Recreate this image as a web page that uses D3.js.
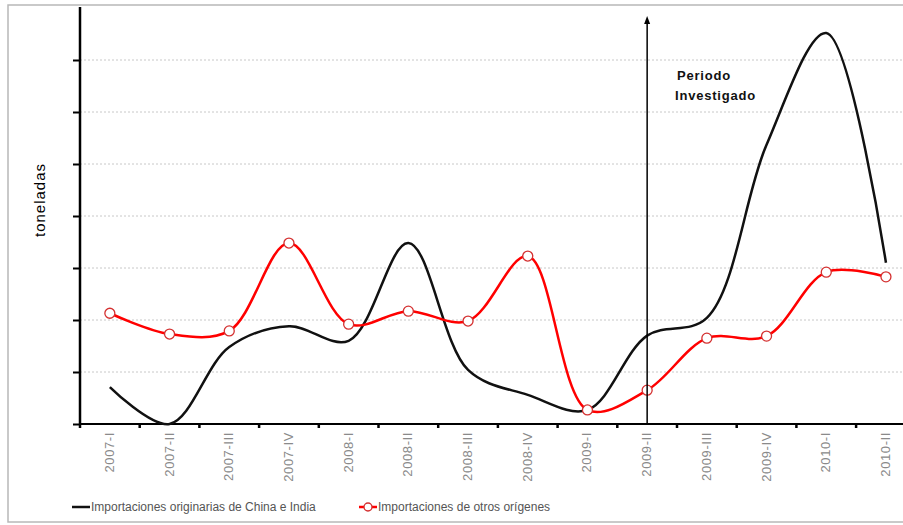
<!DOCTYPE html>
<html>
<head>
<meta charset="utf-8">
<script src="https://cdn.jsdelivr.net/npm/d3@7"></script>
<style>
  body { margin: 0; background: #fff; }
  svg { display: block; font-family: "Liberation Sans", Arial, sans-serif; }
</style>
</head>
<body>
<div id="chart"></div>
<script>
// trimestres
const periods = ["2007-I", "2007-II", "2007-III", "2007-IV", "2008-I", "2008-II", "2008-III",
  "2008-IV", "2009-I", "2009-II", "2009-III", "2009-IV", "2010-I", "2010-II"];
// Importaciones originarias de China e India
const chinaIndia = [0.71, 0.0, 1.48, 1.88, 1.6, 3.48, 1.04, 0.56, 0.27, 1.7, 2.04, 5.37, 7.52, 3.1];
// Importaciones de otros orígenes
const otros = [2.13, 1.73, 1.79, 3.48, 1.92, 2.17, 1.98, 3.23, 0.27, 0.65, 1.65, 1.69, 2.92, 2.83];
const yTicks = [0, 1, 2, 3, 4, 5, 6, 7, 8];
const markerPeriod = "2009-II";

const W = 903, H = 525;
const plotLeft = 80, plotTop = 8, plotBottom = 424;
const step = 59.7;

const svg = d3.select("#chart").append("svg")
  .attr("width", W)
  .attr("height", H);

// outer frame
svg.append("rect")
  .attr("x", 8).attr("y", 5)
  .attr("width", W).attr("height", 517)
  .attr("fill", "none")
  .attr("stroke", "#b8b8b8")
  .attr("stroke-width", 1.5);

const x = d3.scaleBand()
  .domain(periods)
  .range([plotLeft, plotLeft + step * periods.length]);
const y = d3.scaleLinear().domain([0, 8]).range([plotBottom, plotTop]);
const cx = d => x(d) + x.bandwidth() / 2;

// gridlines
svg.append("g")
  .selectAll("line")
  .data(yTicks.filter(d => d > 0 && d < 8))
  .enter().append("line")
  .attr("x1", plotLeft).attr("x2", W)
  .attr("y1", d => y(d)).attr("y2", d => y(d))
  .attr("stroke", "#c8c8c8")
  .attr("stroke-dasharray", "2,2");

// y axis
const yAxis = svg.append("g")
  .attr("transform", `translate(${plotLeft},0)`)
  .call(d3.axisLeft(y).tickValues(yTicks.slice(0, 8)).tickSize(7).tickFormat(""));
yAxis.select(".domain").attr("stroke", "#000").attr("stroke-width", 2.5)
  .attr("d", `M0,${plotTop - 1}V${plotBottom}`);
yAxis.selectAll(".tick line").attr("stroke", "#000").attr("stroke-width", 2);

svg.append("text")
  .attr("transform", `translate(45,${(plotTop + plotBottom) / 2 - 16}) rotate(-90)`)
  .attr("text-anchor", "middle")
  .style("font-size", "15px")
  .style("letter-spacing", "1px")
  .attr("fill", "#000")
  .text("toneladas");

// x axis
const xAxis = svg.append("g")
  .attr("transform", `translate(0,${plotBottom})`)
  .call(d3.axisBottom(x).tickSize(0).tickFormat(""));
xAxis.select(".domain").attr("stroke", "#000").attr("stroke-width", 2)
  .attr("d", `M${plotLeft},0H${W}`);

svg.append("g")
  .selectAll("line")
  .data(periods)
  .enter().append("line")
  .attr("x1", d => x(d)).attr("x2", d => x(d))
  .attr("y1", plotBottom).attr("y2", plotBottom + 4)
  .attr("stroke", "#000")
  .attr("stroke-width", 2.5);

svg.append("g")
  .selectAll("text")
  .data(periods)
  .enter().append("text")
  .attr("transform", d => `translate(${cx(d) + 4},432) rotate(-90)`)
  .attr("text-anchor", "end")
  .style("font-size", "13px")
  .style("letter-spacing", "0.6px")
  .attr("fill", "#8a8a8a")
  .text(d => d);

// series
const line = d3.line()
  .x((d, i) => cx(periods[i]))
  .y(d => y(d))
  .curve(d3.curveCatmullRom.alpha(0.5));

svg.append("path")
  .datum(chinaIndia)
  .attr("d", line)
  .attr("fill", "none")
  .attr("stroke", "#111")
  .attr("stroke-width", 2.5);

svg.append("path")
  .datum(otros)
  .attr("d", line)
  .attr("fill", "none")
  .attr("stroke", "#ff0000")
  .attr("stroke-width", 2.5);

svg.append("g")
  .selectAll("circle")
  .data(otros)
  .enter().append("circle")
  .attr("cx", (d, i) => cx(periods[i]))
  .attr("cy", d => y(d))
  .attr("r", 5)
  .attr("fill", "#fff")
  .attr("stroke", "#d43030")
  .attr("stroke-width", 1.3);

// periodo investigado
const ax = cx(markerPeriod);
svg.append("line")
  .attr("x1", ax).attr("x2", ax)
  .attr("y1", plotBottom).attr("y2", 22)
  .attr("stroke", "#000")
  .attr("stroke-width", 1.5);
svg.append("path")
  .attr("d", `M${ax - 3},24L${ax},16L${ax + 3},24Z`)
  .attr("fill", "#000");

const note = svg.append("text")
  .style("font-size", "13px")
  .style("font-weight", "bold")
  .style("letter-spacing", "0.8px")
  .attr("fill", "#111");
note.append("tspan").attr("x", 677).attr("y", 80).text("Periodo");
note.append("tspan").attr("x", 675).attr("y", 100).text("Investigado");

// legend
const legend = svg.append("g").style("font-size", "12px").attr("fill", "#555");
legend.append("line")
  .attr("x1", 72).attr("x2", 90).attr("y1", 507).attr("y2", 507)
  .attr("stroke", "#111").attr("stroke-width", 2.5);
legend.append("text").attr("x", 91).attr("y", 511)
  .text("Importaciones originarias de China e India");
legend.append("line")
  .attr("x1", 359).attr("x2", 377).attr("y1", 507).attr("y2", 507)
  .attr("stroke", "#ff0000").attr("stroke-width", 2.5);
legend.append("circle")
  .attr("cx", 368).attr("cy", 507).attr("r", 4)
  .attr("fill", "#fff").attr("stroke", "#d43030").attr("stroke-width", 1.3);
legend.append("text").attr("x", 378).attr("y", 511)
  .text("Importaciones de otros orígenes");
</script>
</body>
</html>
